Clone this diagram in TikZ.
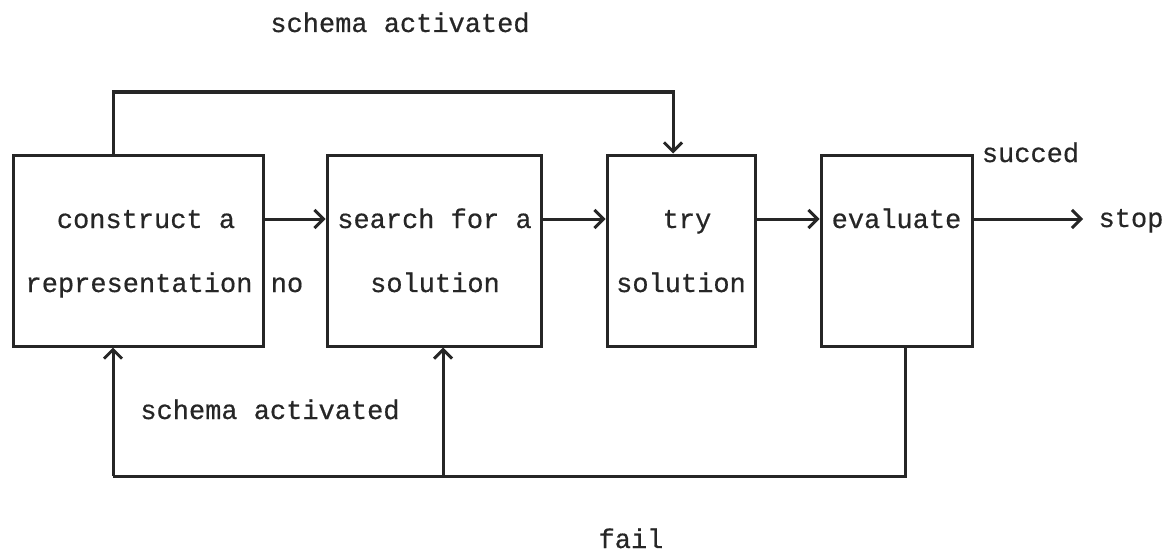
\documentclass[tikz,border=0pt]{standalone}
\usepackage{fontspec}
\newfontfamily\plotfont[FakeBold=0.5]{Liberation Mono}
\usetikzlibrary{arrows.meta}
\begin{document}
\begin{tikzpicture}[x=1pt,y=-1pt,
  box/.style={draw=black!85,line width=3pt,minimum width=#1,minimum height=191pt,inner sep=0pt},
  lbl/.style={anchor=base,inner sep=0pt,text=black!85,font=\plotfont\fontsize{27}{32}\selectfont},
  wire/.style={draw=black!85,line width=3pt},
  arr/.style={wire,-{Straight Barb[length=9pt,width=18pt]}}]
\useasboundingbox (0,0) rectangle (1173,551);
\fill[white] (0,0) rectangle (1173,551);
% boxes
\node[box=250pt] (b1) at (138,250.5) {};
\node[box=214pt] (b2) at (434,250.5) {};
\node[box=148pt] (b3) at (681,250.5) {};
\node[box=151pt] (b4) at (896.5,250.5) {};
% box texts
\node[lbl] (t1a) at (146,228) {construct a};
\node[lbl] (t1b) at (139,292) {representation};
\node[lbl] (t2a) at (434.5,228) {search for a};
\node[lbl] (t2b) at (435,292) {solution};
\node[lbl] (t3a) at (687,228) {try};
\node[lbl] (t3b) at (681,292) {solution};
\node[lbl] (t4a) at (896.5,228) {evaluate};
% labels
\node[lbl] (no) at (287,292) {no};
\node[lbl] (succ) at (1030.5,162) {succed};
\node[lbl] (stop) at (1131,227) {stop};
\node[lbl] (sat) at (400,32) {schema activated};
\node[lbl] (sab) at (270,419) {schema activated};
\node[lbl] (fail) at (631,548) {fail};
% helper coordinates
\coordinate (row) at (0,219);
\coordinate (tl) at (113,92);
\coordinate (tr) at (673,92);
\coordinate (fl) at (113,476);
\coordinate (fm) at (443,476);
\coordinate (fr) at (905,476);
\coordinate (stopend) at (1083,219);
% forward arrows
\draw[arr] (b1.east |- row) -- (b2.west |- row);
\draw[arr] (b2.east |- row) -- (b3.west |- row);
\draw[arr] (b3.east |- row) -- (b4.west |- row);
\draw[arr] (b4.east |- row) -- (stopend);
% top bypass
\draw[arr] (b1.north -| tl) -- (tl) -- (tr) -- (tr |- b3.north);
% fail loop
\draw[wire] (b4.south -| fr) -- (fr) -- (fl);
\draw[arr] (fl) -- (fl |- b1.south);
\draw[arr] (fm) -- (fm |- b2.south);
\end{tikzpicture}
\end{document}
